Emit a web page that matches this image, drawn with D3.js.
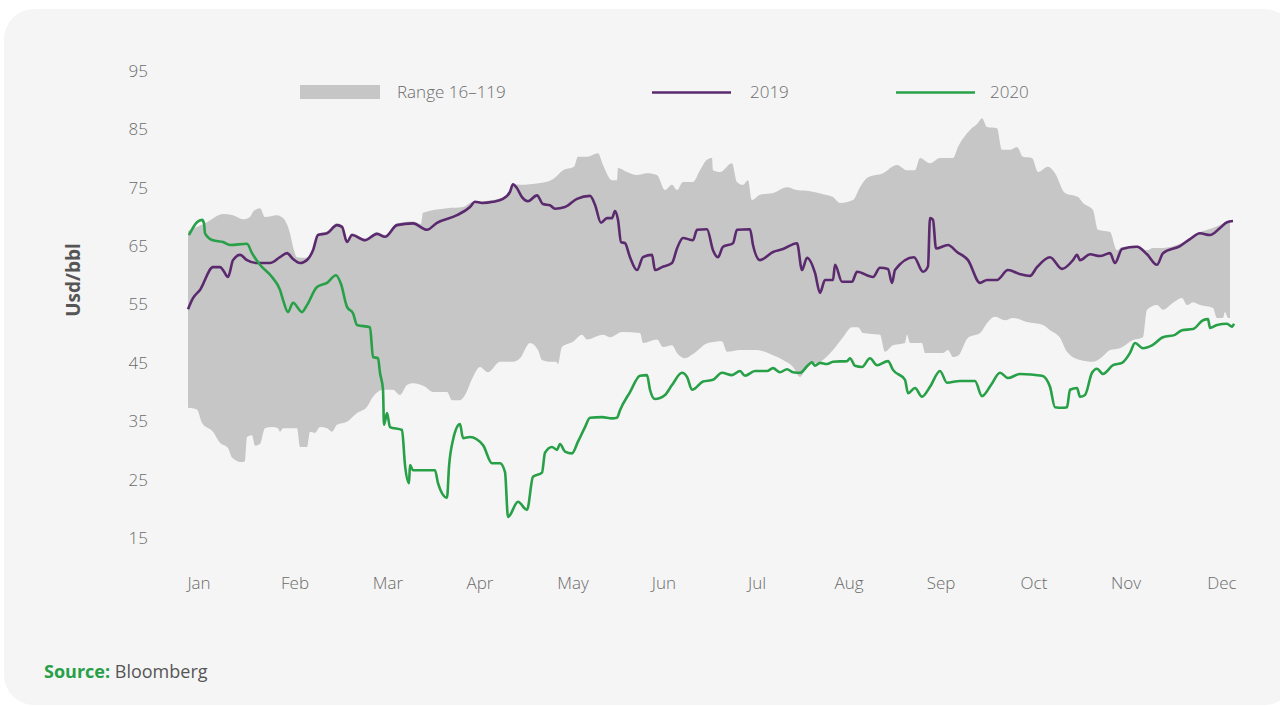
<!DOCTYPE html>
<html>
<head>
<meta charset="utf-8">
<script src="https://cdn.jsdelivr.net/npm/d3@7"></script>
<style>
  html, body { margin: 0; padding: 0; background: #fff; }
  svg { display: block; font-family: "Open Sans", "Noto Sans", sans-serif; }
</style>
</head>
<body>
<div id="chart"></div>
<script>
// x is a trading-day index over the year (0..261), y is Usd/bbl

var monthLabels = ["Jan","Feb","Mar","Apr","May","Jun","Jul","Aug","Sep","Oct","Nov","Dec"];
var monthDays = [2.75, 26.75, 50, 73, 96.25, 119, 142.25, 165.25, 188.25, 211.5, 234.5, 258.5];
var yTicks = [15, 25, 35, 45, 55, 65, 75, 85, 95];

// range 2016-2019, upper edge
var rangeHigh = [
  [0,67.6],[4.75,69.1],[8.75,70.5],[11.25,70.3],[13.75,69.6],[15.5,70],[16.25,70.9],[18,71.5],
  [19.25,70],[22.25,70.3],[23.75,69.8],[25.5,67.2],[26.25,64.9],[27.25,63.1],[29.25,63],[30.5,63.3],
  [31.25,64.6],[32.5,67.2],[34.75,67.5],[37.25,68.9],[38.5,68.6],[39.75,66],[41,67.2],[44.25,66.3],
  [47.25,67.4],[49.25,66.9],[52.25,68.9],[56.25,69.2],[58.25,68.8],[58.75,70.7],[64.75,71.5],[68.75,71.7],
  [71.25,72.6],[73.5,72.7],[76.25,72.9],[78.75,73.4],[80.5,74.6],[81.25,75.6],[83,75.5],[88,75.8],
  [91.5,76.6],[93.75,78],[96.5,78.6],[97.5,80.3],[99.75,80.3],[102.5,80.9],[103.75,78.9],[106,76.3],
  [107.25,76.3],[107.5,78.4],[109.75,77.7],[112.25,77.2],[114.75,77.5],[117.25,77.2],[119.25,74.6],[121,75.5],
  [122.25,74.6],[123.75,76],[126.25,76],[128,78],[129.75,79.8],[131,80.1],[131.25,78],[133,77.7],
  [136,79.2],[137.25,76],[138.75,75.5],[140,76.3],[141,72.9],[143,73.8],[146.25,74.1],[149.75,75.1],
  [152.25,74.6],[155.5,74.4],[158.75,73.9],[161.25,73.4],[163,72.4],[166.25,72.9],[168,75.1],[170,76.8],
  [173.75,77.5],[177.25,78.9],[179.75,78],[181.75,78],[183,80.1],[185.5,79.2],[188,80.1],[191.25,80.1],
  [192.5,82],[195.5,84.9],[197.5,86.1],[198.5,86.9],[199.75,85.4],[202.25,85.2],[203.5,81.5],[205.5,81.5],
  [207.25,82],[208.75,80.3],[211,80.1],[212.5,77.7],[215,78.6],[216.75,77.5],[219.25,74.1],[222.5,73.4],
  [223.75,72.4],[226.25,71.2],[227.5,67.8],[230.5,67.4],[232.25,64.3],[233.5,64.8],[237.25,65.1],[239.75,64.3],
  [241.25,64.7],[243.75,64.7],[248,65.4],[253,67.4],[256.25,68.1],[260.5,69.5]
];

// range 2016-2019, lower edge
var rangeLow = [
  [0,37.3],[2.25,37],[3.5,34.7],[6.25,33.2],[8,31.3],[10,30.4],[11,28.8],[13.5,28],[14.25,28.2],
  [14.75,32.3],[16,32.6],[16.75,30.8],[18,31.1],[19.25,33.8],[21,34],[22.5,33.8],[23,33.2],[23.75,33.8],
  [27.25,33.8],[28,30.6],[29.75,30.6],[30.5,33.2],[31.75,33],[33,34],[34.75,33.8],[36,33.2],[37.25,34.4],
  [39.75,34.9],[42.25,36.4],[44.75,37.5],[46.25,39.2],[48.75,40.4],[51.25,40.4],[53,39.5],[54.75,41.2],
  [56.25,41.5],[59.25,40.9],[61.25,40],[64.75,40],[66,38.6],[68,38.6],[69.25,39.5],[71.25,42.6],[73,44.3],
  [75,43.4],[78,45.2],[81.25,45.2],[83,45.8],[85.5,48.4],[87.5,47.2],[88.5,45.5],[90.5,45.2],[92,45.2],
  [92.5,44.8],[93.5,47.7],[96.25,48.6],[98.5,49.8],[99.75,49],[103.75,49.8],[105.5,49.4],[108.5,50.3],
  [113,50.1],[113.75,48.4],[117.25,49],[118.75,47.7],[121,48],[122.25,46.7],[124.25,45.8],[126.25,46.5],
  [130,48.4],[133.5,48.7],[134.75,46.9],[138,47.2],[142.25,47.2],[146.25,46.3],[148.75,45.5],[151.25,44.3],
  [153,42.6],[154.75,44.3],[158.75,45.5],[161.25,47.2],[163.75,49.4],[166,51.1],[167.5,51.1],[168.75,50.1],
  [173,49.8],[174.25,46.9],[176.25,48],[179.25,48.4],[179.75,49.8],[180.5,48.4],[183.5,48.4],[184.25,46.7],
  [188.75,46.7],[190,47.2],[191.25,46],[192.5,46.2],[195,49.3],[198,50.1],[199.75,51.8],[201.75,52.9],
  [204.25,52.3],[206.25,52.7],[209.75,52],[213.75,51.5],[215.5,50.6],[218,49.3],[219.75,46.9],[223,45.5],
  [226.25,45.2],[228.5,46],[230.5,47.2],[233,47.5],[236.25,48.9],[238.75,49.4],[239.75,54.1],[242.25,54.9],
  [243.75,54.1],[246.25,55.3],[248.5,56.1],[249.75,54.9],[251.25,55.4],[253,54.9],[256.25,54.4],[257.25,52.7],
  [258.75,52.7],[259.25,53.7],[260,52.7],[260.5,52.7]
];

var series2019 = [
  [0,54.2],[1.25,56.1],[3,57.5],[6.25,61.4],[8,61.4],[8.75,60.9],[10,59.7],[11.25,62.6],[13,63.5],
  [14.75,62.6],[17.25,62.1],[20.5,62.1],[23,63.1],[24.75,63.8],[26.25,62.8],[28,62.1],[30,62.8],[31.25,64.3],
  [32.5,66.9],[34.75,67.2],[37.25,68.6],[38.5,68.3],[39.75,65.7],[41,66.9],[44.25,66],[47.25,67.1],[49.25,66.6],
  [52.25,68.6],[56.25,68.9],[59.75,67.8],[62.25,69],[67.25,70.3],[70.5,71.7],[71.75,72.6],[73.5,72.4],
  [76.25,72.6],[78.75,73.1],[80.5,74.3],[81.25,75.6],[82.25,74.9],[83.5,73.4],[85,72.7],[87.25,73.7],
  [88.75,72.2],[90.5,72],[91.75,71.4],[94.25,71.7],[97.25,73.1],[100.5,73.6],[101.75,72.1],[103.25,69],
  [104.75,69.8],[106,69.8],[106.75,71],[107.5,69.5],[108.25,65.7],[109.25,65.5],[110.5,63.1],[112.25,60.9],
  [113.75,63.1],[116,63.5],[116.75,60.9],[118.5,61.4],[121,62.1],[122.25,64.6],[123.75,66.4],[126.25,66],
  [127.25,67.8],[129.75,67.9],[131.25,64.3],[132.5,63.1],[133.75,64.9],[136.25,65.5],[137.25,67.8],[140.5,67.9],
  [141.25,65.2],[143,62.6],[146.25,64],[148.75,64.5],[152.25,65.5],[153.5,60.9],[154.75,63],[156.75,60.4],
  [158,57],[159.25,59.2],[161.25,59.2],[161.75,61.8],[163.5,58.9],[166,58.9],[167.25,60.6],[171.25,59.7],
  [173,61.3],[175,61.1],[176,58.7],[176.75,60.9],[181.5,63.1],[183.75,60.6],[185,61.5],[185.5,69.8],
  [186.25,69.5],[187,64.6],[190,65.2],[192.25,64],[195,62.6],[198,58.7],[199.75,59.2],[202.25,59.2],
  [205,60.9],[208,60.2],[210.5,59.9],[212.25,61.4],[215.5,63.1],[218.5,61.1],[221.25,62.6],[222.25,63.5],
  [223,62.6],[225.5,63.6],[228,63.3],[230.5,63.8],[231.75,62.1],[233.5,64.5],[237.25,64.9],[239.75,63.6],
  [242.25,61.8],[243.75,63.8],[248,65],[250.5,66.2],[253,67.2],[255.5,66.9],[258,68.1],[259.75,69.1],[261.25,69.3]
];

var series2020 = [
  [0.25,66.9],[2.25,69.1],[3.5,69.5],[4,68.9],[4.25,67.2],[6.25,66],[8.75,65.7],[10.5,65.2],[14.75,65.4],
  [16,63.8],[18,61.8],[21,59.7],[23,57.5],[23.75,55.8],[25,53.7],[26.25,55.3],[28.5,53.7],[29.75,54.9],
  [32.25,58],[34.75,58.7],[37,60],[38.25,58.5],[39.75,54.6],[41.25,53.5],[42.25,51.5],[45.5,51.1],[46.25,46],
  [47.5,45.8],[48,43.3],[48.75,40.4],[49,34.4],[49.75,36.4],[50.5,34],[53.5,33.5],[54.25,27.5],[55.25,24.4],
  [55.5,27.5],[56.25,26.6],[61.75,26.6],[62.5,24.4],[64.75,21.9],[65.25,27.2],[66.25,31.8],[68,34.5],
  [68.75,32.1],[70.5,32.3],[73.75,30.9],[76,27.8],[78,27.8],[79.25,26.3],[80,18.6],[82.5,21.2],[84.75,19.8],
  [86.25,25.5],[88.5,26.2],[89.25,29.6],[91,30.6],[92.25,30.1],[93,31.1],[94.25,29.8],[96,29.5],[97.5,31.5],
  [99.25,34],[100.5,35.6],[103.5,35.7],[106,35.5],[107.25,35.6],[108,36.9],[110.5,40],[113,42.8],[114.75,42.9],
  [115.5,40.4],[116.75,38.8],[119.25,39.5],[121,41.2],[123.5,43.3],[124.75,42.6],[126,40.4],[128.75,41.8],
  [131.25,42.1],[133.5,43.3],[136,42.9],[138,43.6],[139.25,42.8],[141.75,43.6],[144.75,43.6],[146.25,44.1],
  [148,43.4],[149.75,43.9],[151.25,43.4],[153,43.3],[155,44.6],[156,45.1],[156.75,44.5],[158,45],[159.75,44.8],
  [161.25,45.2],[164.75,45.3],[165.5,45.8],[166.75,44.5],[168.5,44.3],[170.5,45.8],[172.25,44.6],[175,45.3],
  [176.25,43.8],[179.25,42.1],[180,39.8],[181.75,40.7],[183.5,39.2],[185.5,40.9],[188,43.6],[189.75,41.6],
  [193,41.9],[196.75,41.9],[198.5,39.3],[200.75,41.2],[203,43.3],[205,42.4],[208,43.1],[213.5,42.8],
  [215.5,40.9],[216.75,37.4],[218.5,37.3],[219.75,37.4],[220.5,40.4],[222.25,40.7],[223,39.2],[224.25,39.5],
  [226,43.3],[227.25,44],[228.75,43.1],[231.25,44.6],[233.5,45],[235.5,46.7],[236.75,48.4],[238.75,47.5],
  [241,48],[243.75,49.4],[246.75,49.8],[248.5,50.6],[251.25,50.8],[253.75,52.3],[255,52.5],[255.5,51],
  [257.25,51.5],[259.75,51.7],[261,51.2],[261.5,51.7]
];

var W = 1280, H = 707;
var svg = d3.select("#chart").append("svg").attr("width", W).attr("height", H);

// panel
svg.append("rect").attr("x", 4).attr("y", 9).attr("width", 1290).attr("height", 696)
  .attr("rx", 30).attr("fill", "#f5f5f5");

var x = d3.scaleLinear().domain([0, 261]).range([188, 1232]);
var y = d3.scaleLinear().domain([15, 95]).range([538, 71]);

// band: area under the high edge, clipped to what lies above the low edge
svg.append("clipPath").attr("id", "aboveLow")
  .append("path")
  .attr("d", d3.area().x(function(d) { return x(d[0]); }).y0(0).y1(function(d) { return y(d[1]); })
    .curve(d3.curveMonotoneX)(rangeLow));

svg.append("path")
  .attr("clip-path", "url(#aboveLow)")
  .attr("fill", "#c6c6c6")
  .attr("d", d3.area().x(function(d) { return x(d[0]); }).y0(y(0)).y1(function(d) { return y(d[1]); })
    .curve(d3.curveMonotoneX)(rangeHigh));

var line = d3.line().x(function(d) { return x(d[0]); }).y(function(d) { return y(d[1]); })
  .curve(d3.curveMonotoneX);

svg.append("path").attr("d", line(series2019)).attr("fill", "none")
  .attr("stroke", "#5b2a6e").attr("stroke-width", 2.6).attr("stroke-linejoin", "round");
svg.append("path").attr("d", line(series2020)).attr("fill", "none")
  .attr("stroke", "#27a048").attr("stroke-width", 2.6).attr("stroke-linejoin", "round");

// y axis labels
svg.append("g").selectAll("text").data(yTicks).enter().append("text")
  .attr("x", 148).attr("y", function(d) { return y(d); }).attr("dy", "0.35em")
  .attr("text-anchor", "end").attr("font-size", 17).attr("font-weight", 300).attr("fill", "#6b6b6b")
  .text(function(d) { return d; });

// x axis labels
svg.append("g").selectAll("text").data(monthLabels).enter().append("text")
  .attr("x", function(d, i) { return x(monthDays[i]); }).attr("y", 583).attr("dy", "0.35em")
  .attr("text-anchor", "middle").attr("font-size", 17).attr("font-weight", 300).attr("fill", "#6b6b6b")
  .text(function(d) { return d; });

svg.append("text").attr("transform", "translate(80,280) rotate(-90)")
  .attr("text-anchor", "middle").attr("font-size", 19).attr("font-weight", 700).attr("fill", "#555")
  .text("Usd/bbl");

// legend
var lg = svg.append("g");
lg.append("rect").attr("x", 300).attr("y", 85).attr("width", 80).attr("height", 14).attr("fill", "#c6c6c6");
lg.append("text").attr("x", 397).attr("y", 92).attr("dy", "0.35em").attr("font-size", 17)
  .attr("font-weight", 300).attr("fill", "#6b6b6b").text("Range 16\u2013119");
lg.append("line").attr("x1", 652).attr("x2", 731).attr("y1", 92.5).attr("y2", 92.5)
  .attr("stroke", "#5b2a6e").attr("stroke-width", 2.6);
lg.append("text").attr("x", 750).attr("y", 92).attr("dy", "0.35em").attr("font-size", 17)
  .attr("font-weight", 300).attr("fill", "#6b6b6b").text("2019");
lg.append("line").attr("x1", 896).attr("x2", 975).attr("y1", 92.5).attr("y2", 92.5)
  .attr("stroke", "#27a048").attr("stroke-width", 2.6);
lg.append("text").attr("x", 990).attr("y", 92).attr("dy", "0.35em").attr("font-size", 17)
  .attr("font-weight", 300).attr("fill", "#6b6b6b").text("2020");

// source
var src = svg.append("text").attr("x", 44).attr("y", 672).attr("dy", "0.35em").attr("font-size", 18);
src.append("tspan").attr("font-weight", 700).attr("fill", "#27a048").text("Source:");
src.append("tspan").attr("fill", "#555").attr("font-weight", 400).text(" Bloomberg");
</script>
</body>
</html>
